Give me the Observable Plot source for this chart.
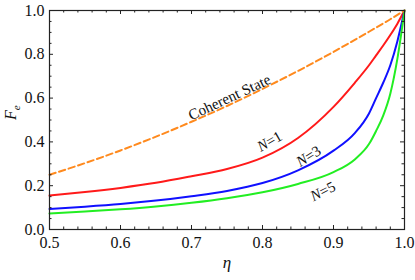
<!DOCTYPE html>
<html><head><meta charset="utf-8">
<script src="https://cdn.jsdelivr.net/npm/d3@7"></script>
<script src="https://cdn.jsdelivr.net/npm/@observablehq/plot@0.6"></script>
<style>
body{margin:0;background:#fff}
#chart svg text{font-family:"Liberation Serif","Tinos","Times New Roman","Nimbus Roman","FreeSerif","Noto Serif","DejaVu Serif",serif !important}
</style>
</head><body><div id="chart"></div>
<script>
// transmissivity grid
const eta = [0.5,0.55,0.6,0.65,0.7,0.75,0.8,0.85,0.9,0.93,0.95,0.96,0.97,0.98,0.99,1.0];
// fidelity values
const coherent = [0.25,0.303,0.361,0.424,0.492,0.564,0.642,0.724,0.811,0.866,0.903,0.922,0.941,0.96,0.98,1.0];
const n1 = [0.155,0.171,0.19,0.213,0.243,0.276,0.328,0.418,0.56,0.67,0.75,0.795,0.84,0.888,0.94,1.0];
const n3 = [0.094,0.104,0.116,0.132,0.152,0.176,0.212,0.27,0.36,0.44,0.53,0.60,0.67,0.75,0.86,1.0];
const n5 = [0.073,0.082,0.092,0.105,0.122,0.143,0.17,0.208,0.262,0.32,0.39,0.45,0.52,0.62,0.78,1.0];

const seriesNames = ["Coherent State","N=1","N=3","N=5"];
const seriesValues = [coherent,n1,n3,n5];
const seriesColors = ["#ff8a1e","#ff1a1a","#1010ff","#22ee22"];

// curve labels: text, eta, F, angle
const labelText = ["Coherent State","N=1","N=3","N=5"];
const labelEta = [0.7535,0.81,0.865,0.885];
const labelF = [0.603,0.402,0.334,0.174];
const labelAngle = [-25,-30,-32,-27];

const xTicks = [0.5,0.6,0.7,0.8,0.9,1.0];
const yTicks = [0,0.2,0.4,0.6,0.8,1.0];
const xMinor = d3.range(0.5,1.0001,0.02).filter(v=>!xTicks.some(t=>Math.abs(t-v)<1e-6));
const yMinor = d3.range(0,1.0001,0.05).filter(v=>!yTicks.some(t=>Math.abs(t-v)<1e-6));

const rows = [];
seriesNames.forEach((s,i)=>eta.forEach((e,j)=>rows.push({series:s,eta:e,F:seriesValues[i][j]})));
const labels = labelText.map((t,i)=>({t,eta:labelEta[i],F:labelF[i],a:labelAngle[i]}));

const W=415,H=280,ML=49,MR=11,MT=10,MB=51;
const PW=W-ML-MR, PH=H-MT-MB;
const maj=4, mnr=2.5;
const FF='"Liberation Serif","Tinos","Times New Roman","Nimbus Roman","FreeSerif","Noto Serif","DejaVu Serif",serif';

const chart = Plot.plot({
  width:W,height:H,marginLeft:ML,marginRight:MR,marginTop:MT,marginBottom:MB,
  style:{fontFamily:FF,background:"#fff",color:"#111"},
  x:{domain:[0.5,1.0]},
  y:{domain:[0,1.0]},
  marks:[
    Plot.line(rows.filter(d=>d.series!=="Coherent State"),{x:"eta",y:"F",z:"series",stroke:d=>seriesColors[seriesNames.indexOf(d.series)],strokeWidth:2,curve:"monotone-x"}),
    Plot.line(rows.filter(d=>d.series==="Coherent State"),{x:"eta",y:"F",stroke:seriesColors[0],strokeWidth:2,strokeDasharray:"6.5,3.5",curve:"monotone-x"}),
    Plot.text(labels,{x:"eta",y:"F",text:"t",rotate:"a",fontSize:15,fontFamily:FF,fill:"#111",textAnchor:"middle",lineAnchor:"middle",className:"clabel"}),
    // ticks, inward on all sides
    Plot.tickX(xTicks,{x:d=>d,insetTop:PH-maj,stroke:"#222"}),
    Plot.tickX(xTicks,{x:d=>d,insetBottom:PH-maj,stroke:"#222"}),
    Plot.tickX(xMinor,{x:d=>d,insetTop:PH-mnr,stroke:"#222"}),
    Plot.tickX(xMinor,{x:d=>d,insetBottom:PH-mnr,stroke:"#222"}),
    Plot.tickY(yTicks,{y:d=>d,insetRight:PW-maj,stroke:"#222"}),
    Plot.tickY(yTicks,{y:d=>d,insetLeft:PW-maj,stroke:"#222"}),
    Plot.tickY(yMinor,{y:d=>d,insetRight:PW-mnr,stroke:"#222"}),
    Plot.tickY(yMinor,{y:d=>d,insetLeft:PW-mnr,stroke:"#222"}),
    Plot.axisX(xTicks,{tickSize:0,tickPadding:7,tickFormat:d3.format(".1f"),fontSize:16,fontFamily:FF,label:null,fill:"#111"}),
    Plot.axisY(yTicks,{tickSize:0,tickPadding:5,tickFormat:d3.format(".1f"),fontSize:16,fontFamily:FF,label:null,fill:"#111"}),
    Plot.text(["η"],{frameAnchor:"bottom",dy:38,fontSize:17,fontStyle:"italic",fontFamily:FF,fill:"#111"}),
    Plot.text(["Fe"],{frameAnchor:"left",dx:-39,dy:0,rotate:-90,fontSize:16,fontFamily:FF,fill:"#111",className:"ylab"}),
    Plot.frame({stroke:"#222",strokeWidth:1.2})
  ]
});
document.getElementById("chart").appendChild(chart);

// italic N in curve labels
chart.querySelectorAll(".clabel text").forEach(t=>{
  const s=t.textContent;
  if(s.startsWith("N")){
    t.textContent="";
    const a=document.createElementNS("http://www.w3.org/2000/svg","tspan");
    a.setAttribute("font-style","italic");a.textContent="N";
    const b=document.createElementNS("http://www.w3.org/2000/svg","tspan");
    b.textContent=s.slice(1);
    t.appendChild(a);t.appendChild(b);
  }
});
// F with subscript e
chart.querySelectorAll(".ylab text").forEach(t=>{
  const s=t.textContent;
  t.textContent="";
  const a=document.createElementNS("http://www.w3.org/2000/svg","tspan");
  a.setAttribute("font-style","italic");a.textContent=s[0];
  const b=document.createElementNS("http://www.w3.org/2000/svg","tspan");
  b.setAttribute("font-style","italic");b.setAttribute("font-size","11");b.setAttribute("dy","4");b.textContent=s.slice(1);
  t.appendChild(a);t.appendChild(b);
});
</script>
</body></html>
